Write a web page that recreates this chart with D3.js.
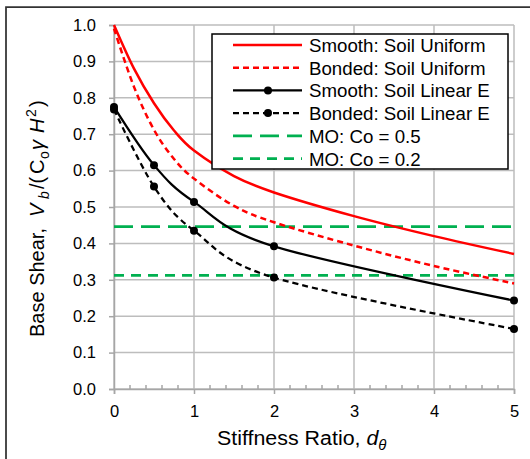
<!DOCTYPE html>
<html>
<head>
<meta charset="utf-8">
<script src="https://cdn.jsdelivr.net/npm/d3@7/dist/d3.min.js"></script>
<style>
  html, body { margin: 0; padding: 0; background: #fff; }
  svg { display: block; font-family: "Liberation Sans", Arial, sans-serif; }
</style>
</head>
<body>
<svg id="chart" width="530" height="459"></svg>
<script>
// Stiffness ratios for the uniform-soil runs (finer sampling)
const stiffnessUniform = [0, 0.25, 0.5, 0.75, 1, 1.5, 2, 3, 4, 5];
// Stiffness ratios for the linear-E runs (shown with markers)
const stiffnessLinearE = [0, 0.5, 1, 2, 5];

// Normalized base shear for each wall/soil case
const smoothUniform = [1.0, 0.88, 0.785, 0.71, 0.655, 0.585, 0.54, 0.475, 0.42, 0.371];
const bondedUniform = [0.99, 0.83, 0.712, 0.632, 0.578, 0.503, 0.458, 0.394, 0.338, 0.29];
const smoothLinearE = [0.775, 0.615, 0.514, 0.392, 0.243];
const bondedLinearE = [0.768, 0.556, 0.435, 0.306, 0.165];

// Mononobe-Okabe reference levels
const moCo05 = 0.446;
const moCo02 = 0.312;

const xTicks = [0, 1, 2, 3, 4, 5];
const yTicks = [0, 0.1, 0.2, 0.3, 0.4, 0.5, 0.6, 0.7, 0.8, 0.9, 1.0];

const legendLabels = [
  "Smooth: Soil Uniform",
  "Bonded: Soil Uniform",
  "Smooth: Soil Linear E",
  "Bonded: Soil Linear E",
  "MO: Co = 0.5",
  "MO: Co = 0.2"
];

const RED = "#ff0000", BLACK = "#000000", GREEN = "#00b050", GRID = "#bdbdbd", AXIS = "#a6a6a6";

const series = [
  { xs: stiffnessUniform, values: smoothUniform, color: RED, width: 2.5, dash: null, markers: false },
  { xs: stiffnessUniform, values: bondedUniform, color: RED, width: 2.5, dash: "6,4", markers: false },
  { xs: stiffnessLinearE, values: smoothLinearE, color: BLACK, width: 2.25, dash: null, markers: true },
  { xs: stiffnessLinearE, values: bondedLinearE, color: BLACK, width: 2.25, dash: "6,4", markers: true }
];
const refLines = [
  { value: moCo05, color: GREEN, width: 2.75, dash: "19,8" },
  { value: moCo02, color: GREEN, width: 2.75, dash: "10,7" }
];

const svg = d3.select("#chart");
const plot = { left: 114, right: 514, top: 25, bottom: 389 };

const x = d3.scaleLinear().domain([0, 5]).range([plot.left, plot.right]);
const y = d3.scaleLinear().domain([0, 1]).range([plot.bottom, plot.top]);

// Outer chart frame (top and left edges)
svg.append("path")
  .attr("d", "M6,459 V7 H530")
  .attr("fill", "none").attr("stroke", "#333").attr("stroke-width", 1.75);

// Gridlines
const grid = svg.append("g");
grid.selectAll("line.gy").data(yTicks).join("line")
  .attr("x1", plot.left).attr("x2", plot.right)
  .attr("y1", d => y(d)).attr("y2", d => y(d))
  .attr("stroke", GRID).attr("stroke-width", 1.5);
grid.selectAll("line.gx").data(xTicks).join("line")
  .attr("y1", plot.top).attr("y2", plot.bottom)
  .attr("x1", d => x(d)).attr("x2", d => x(d))
  .attr("stroke", GRID).attr("stroke-width", 1.5);

// Y axis
const yAxis = svg.append("g")
  .attr("transform", `translate(${plot.left},0)`)
  .call(d3.axisLeft(y).tickValues(yTicks).tickFormat(d3.format(".1f")).tickSize(5).tickPadding(13));
yAxis.select(".domain").attr("stroke", AXIS).attr("stroke-width", 1.5);
yAxis.selectAll(".tick line").attr("stroke", AXIS).attr("stroke-width", 1.5);
yAxis.selectAll(".tick text").attr("font-size", 16.5).attr("fill", "#000")
  .attr("font-family", "Liberation Sans, Arial, sans-serif");

// X axis with major ticks below and minor ticks inside
const xAxis = svg.append("g")
  .attr("transform", `translate(0,${plot.bottom})`)
  .call(d3.axisBottom(x).tickValues(xTicks).tickFormat(d3.format("d")).tickSize(5).tickPadding(11));
xAxis.select(".domain").attr("stroke", AXIS).attr("stroke-width", 1.5);
xAxis.selectAll(".tick line").attr("stroke", AXIS).attr("stroke-width", 1.5);
xAxis.selectAll(".tick text").attr("font-size", 16.5).attr("fill", "#000")
  .attr("font-family", "Liberation Sans, Arial, sans-serif");
const minor = d3.range(0, 25).map(i => i * 0.2).filter(v => Math.abs(v - Math.round(v)) > 1e-6);
svg.append("g").selectAll("line").data(minor).join("line")
  .attr("x1", d => x(d)).attr("x2", d => x(d))
  .attr("y1", plot.bottom).attr("y2", plot.bottom - 4)
  .attr("stroke", AXIS).attr("stroke-width", 1.5);

// Mononobe-Okabe reference lines
svg.append("g").selectAll("line").data(refLines).join("line")
  .attr("x1", x(0)).attr("x2", x(5))
  .attr("y1", d => y(d.value)).attr("y2", d => y(d.value))
  .attr("stroke", d => d.color).attr("stroke-width", d => d.width)
  .attr("stroke-dasharray", d => d.dash);

// Smoothed response curves
const curves = svg.append("g");
series.forEach(s => {
  const pts = s.values.map((v, i) => [s.xs[i], v]);
  const line = d3.line()
    .x(d => x(d[0]))
    .y(d => y(d[1]))
    .curve(d3.curveCatmullRom.alpha(0));
  curves.append("path")
    .attr("d", line(pts))
    .attr("fill", "none")
    .attr("stroke", s.color)
    .attr("stroke-width", s.width)
    .attr("stroke-dasharray", s.dash);
  if (s.markers) {
    curves.append("g").selectAll("circle").data(pts).join("circle")
      .attr("cx", d => x(d[0]))
      .attr("cy", d => y(d[1]))
      .attr("r", 4)
      .attr("fill", s.color);
  }
});

// X axis title
svg.append("text")
  .attr("transform", "translate(217,445) scale(1.07,1)")
  .attr("font-size", 20).attr("fill", "#000")
  .call(t => {
    t.append("tspan").text("Stiffness Ratio, ");
    t.append("tspan").attr("font-style", "italic").text("d");
    t.append("tspan").attr("font-style", "italic").attr("font-size", 14).attr("dy", 5).text("θ");
  });

// Y axis title, pieces laid out along the rotated baseline
const yTitle = svg.append("text")
  .attr("transform", "translate(44,337) rotate(-90)")
  .attr("font-size", 20).attr("fill", "#000");
const yParts = [
  { t: "Base Shear,", at: 0, base: 0, size: 20, italic: false },
  { t: "V", at: 120, base: 0, size: 20, italic: true },
  { t: "b", at: 138, base: 5, size: 14, italic: true },
  { t: "/(", at: 148, base: 0, size: 20, italic: false },
  { t: "C", at: 163, base: 0, size: 20, italic: false },
  { t: "o", at: 178, base: 5, size: 14, italic: false },
  { t: "γ", at: 187, base: 0, size: 20, italic: true },
  { t: "H", at: 204, base: 0, size: 20, italic: true },
  { t: "2", at: 220, base: -8, size: 14, italic: false },
  { t: ")", at: 230, base: 0, size: 20, italic: false }
];
yParts.forEach(p => {
  yTitle.append("tspan")
    .attr("x", p.at).attr("y", p.base)
    .attr("font-size", p.size)
    .attr("font-style", p.italic ? "italic" : "normal")
    .text(p.t);
});

// Legend
const legend = svg.append("g");
legend.append("rect")
  .attr("x", 212).attr("y", 34).attr("width", 296).attr("height", 135)
  .attr("fill", "#fff").attr("stroke", "#000").attr("stroke-width", 1.5);
const legendItems = [
  { color: RED, width: 2.5, dash: null, marker: false },
  { color: RED, width: 2.5, dash: "6,4", marker: false },
  { color: BLACK, width: 2.25, dash: null, marker: true },
  { color: BLACK, width: 2.25, dash: "6,4", marker: true },
  { color: GREEN, width: 2.75, dash: "19,8", marker: false },
  { color: GREEN, width: 2.75, dash: "10,7", marker: false }
];
legendItems.forEach((it, i) => {
  const cy = 45 + i * 22.7;
  legend.append("line")
    .attr("x1", 233).attr("x2", 302).attr("y1", cy).attr("y2", cy)
    .attr("stroke", it.color).attr("stroke-width", it.width)
    .attr("stroke-dasharray", it.dash);
  if (it.marker) {
    legend.append("circle").attr("cx", 268).attr("cy", cy).attr("r", 4).attr("fill", it.color);
  }
  legend.append("text")
    .attr("x", 309).attr("y", cy + 7)
    .attr("font-size", 18.7).attr("fill", "#000")
    .text(legendLabels[i]);
});
</script>
</body>
</html>
